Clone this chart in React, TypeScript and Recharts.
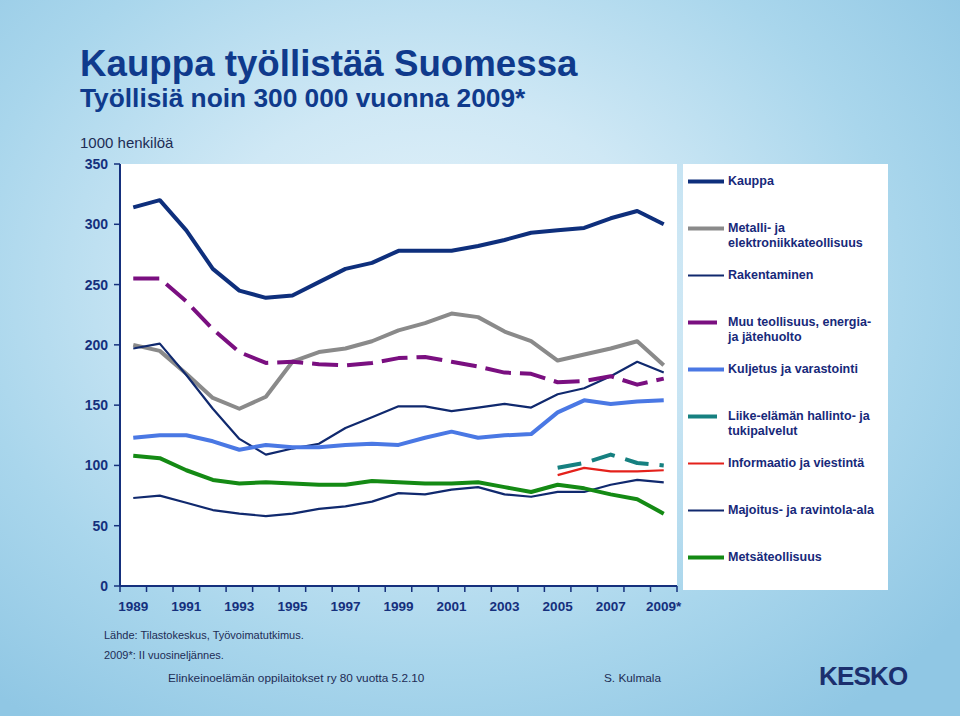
import React from "react";
import { LineChart, Line, XAxis, YAxis, CartesianGrid } from "recharts";

// 1000 henkilöä, 1989 – 2009* (II vuosineljännes)
const years = [1989, 1990, 1991, 1992, 1993, 1994, 1995, 1996, 1997, 1998, 1999, 2000, 2001, 2002, 2003, 2004, 2005, 2006, 2007, 2008, 2009];
const kauppa = [314, 320, 295, 263, 245, 239, 241, 252, 263, 268, 278, 278, 278, 282, 287, 293, 295, 297, 305, 311, 300];
const metalli = [200, 195, 176, 156, 147, 157, 186, 194, 197, 203, 212, 218, 226, 223, 211, 203, 187, 192, 197, 203, 183];
const rakentaminen = [197, 201, 175, 147, 122, 109, 114, 118, 131, 140, 149, 149, 145, 148, 151, 148, 159, 164, 174, 186, 177];
const muuTeollisuus = [255, 255, 236, 213, 194, 185, 186, 184, 183, 185, 189, 190, 186, 182, 177, 176, 169, 170, 174, 167, 172];
const kuljetus = [123, 125, 125, 120, 113, 117, 115, 115, 117, 118, 117, 123, 128, 123, 125, 126, 144, 154, 151, 153, 154];
const liikeElama = [null, null, null, null, null, null, null, null, null, null, null, null, null, null, null, null, 98, 102, 109, 102, 100];
const informaatio = [null, null, null, null, null, null, null, null, null, null, null, null, null, null, null, null, 92, 98, 95, 95, 96];
const majoitus = [73, 75, 69, 63, 60, 58, 60, 64, 66, 70, 77, 76, 80, 82, 76, 74, 78, 78, 84, 88, 86];
const metsa = [108, 106, 96, 88, 85, 86, 85, 84, 84, 87, 86, 85, 85, 86, 82, 78, 84, 81, 76, 72, 60];

const yTicks = [0, 50, 100, 150, 200, 250, 300, 350];

const NAVY = "#15307d";
const FONT = "'Liberation Sans', Arial, Helvetica, sans-serif";

const series = [
  { key: "kauppa", label: ["Kauppa"], color: "#0e2f7c", width: 4, dash: undefined, values: kauppa },
  { key: "metalli", label: ["Metalli- ja", "elektroniikkateollisuus"], color: "#8a8a8a", width: 4, dash: undefined, values: metalli },
  { key: "rakentaminen", label: ["Rakentaminen"], color: "#10296e", width: 2.2, dash: undefined, values: rakentaminen },
  { key: "muu", label: ["Muu teollisuus, energia-", "ja jätehuolto"], color: "#7a0f80", width: 4, dash: "26 9", values: muuTeollisuus },
  { key: "kuljetus", label: ["Kuljetus ja varastointi"], color: "#4a78e4", width: 4, dash: undefined, values: kuljetus },
  { key: "liike", label: ["Liike-elämän hallinto- ja", "tukipalvelut"], color: "#168080", width: 4, dash: "24 11", values: liikeElama },
  { key: "informaatio", label: ["Informaatio ja viestintä"], color: "#e4211b", width: 2.2, dash: undefined, values: informaatio },
  { key: "majoitus", label: ["Majoitus- ja ravintola-ala"], color: "#10296e", width: 2.2, dash: undefined, values: majoitus },
  { key: "metsa", label: ["Metsäteollisuus"], color: "#148a14", width: 4, dash: undefined, values: metsa },
];

const data = years.map((year, i) => {
  const row: Record<string, number | null> = { year };
  series.forEach((s) => {
    row[s.key] = s.values[i];
  });
  return row;
});

// tick marks sit between the years, labels every second year
const xTicks: number[] = [years[0] - 0.5];
years.forEach((y) => {
  xTicks.push(y, y + 0.5);
});

function YearTick(props: any) {
  const { x, y, payload } = props;
  const v = payload.value as number;
  if (v % 1 !== 0) {
    return <line x1={x} x2={x} y1={y} y2={y + 6} stroke={NAVY} strokeWidth={1.5} />;
  }
  if ((v - years[0]) % 2 !== 0) return <g />;
  return (
    <text x={x} y={y + 25} textAnchor="middle" fill={NAVY} fontSize={13.5} fontWeight="bold" fontFamily={FONT}>
      {v === 2009 ? "2009*" : String(v)}
    </text>
  );
}

function LegendBox() {
  return (
    <div
      style={{
        position: "absolute",
        left: 683,
        top: 164,
        width: 205,
        height: 426,
        background: "#fff",
      }}
    >
      <div style={{ position: "absolute", left: 0, top: 9.5 }}>
        {series.map((s) => (
          <div key={s.key} style={{ height: 47.1, display: "flex", alignItems: "flex-start" }}>
            <svg width={45} height={15} style={{ flex: "none" }}>
              <line
                x1={5}
                x2={s.dash ? 34 : 41}
                y1={7.5}
                y2={7.5}
                stroke={s.color}
                strokeWidth={s.width}
              />
            </svg>
            <div style={{ fontFamily: FONT, fontWeight: "bold", fontSize: 12.5, lineHeight: "15px", color: "#17297a" }}>
              {s.label.map((l) => (
                <div key={l}>{l}</div>
              ))}
            </div>
          </div>
        ))}
      </div>
    </div>
  );
}

export default function App() {
  return (
    <div
      style={{
        position: "absolute",
        left: 0,
        top: 0,
        width: 960,
        height: 716,
        overflow: "hidden",
        fontFamily: FONT,
        background:
          "radial-gradient(ellipse 70% 75% at 45% 40%, #e6f3fa 0%, #cfe8f5 35%, #a9d6ec 70%, #90c7e4 100%)",
      }}
    >
      <div style={{ position: "absolute", left: 80, top: 46, fontSize: 36.7, fontWeight: "bold", color: "#0f3a8c", lineHeight: 1, whiteSpace: "nowrap" }}>
        Kauppa työllistää Suomessa
      </div>
      <div style={{ position: "absolute", left: 80, top: 85, fontSize: 26.3, fontWeight: "bold", color: "#0f3a8c", lineHeight: 1, whiteSpace: "nowrap" }}>
        Työllisiä noin 300 000 vuonna 2009*
      </div>
      <div style={{ position: "absolute", left: 80, top: 135, fontSize: 15, color: "#1d2c55", lineHeight: 1 }}>
        1000 henkilöä
      </div>

      <div style={{ position: "absolute", left: 0, top: 0 }}>
        <LineChart width={960} height={716} data={data} margin={{ top: 164, right: 283, bottom: 100, left: 80 }}>
          <CartesianGrid fill="#ffffff" horizontal={false} vertical={false} />
          <XAxis
            dataKey="year"
            type="number"
            domain={[years[0] - 0.5, years[years.length - 1] + 0.5]}
            ticks={xTicks}
            interval={0}
            tick={<YearTick />}
            tickLine={false}
            tickSize={0}
            tickMargin={0}
            height={30}
            axisLine={{ stroke: NAVY, strokeWidth: 2 }}
          />
          <YAxis
            domain={[0, 350]}
            ticks={yTicks}
            width={40}
            tickSize={6}
            tickMargin={6}
            axisLine={{ stroke: NAVY, strokeWidth: 2 }}
            tickLine={{ stroke: NAVY, strokeWidth: 1.5 }}
            tick={{ fill: NAVY, fontSize: 14, fontWeight: "bold", fontFamily: FONT }}
          />
          {series.map((s) => (
            <Line
              key={s.key}
              dataKey={s.key}
              stroke={s.color}
              strokeWidth={s.width}
              strokeDasharray={s.dash}
              strokeLinejoin="round"
              dot={false}
              activeDot={false}
              connectNulls={false}
              isAnimationActive={false}
            />
          ))}
        </LineChart>
      </div>

      <LegendBox />

      <div style={{ position: "absolute", left: 104, top: 630, fontSize: 11, color: "#1d2c55", lineHeight: 1 }}>
        Lähde: Tilastokeskus, Työvoimatutkimus.
      </div>
      <div style={{ position: "absolute", left: 104, top: 650, fontSize: 11, color: "#1d2c55", lineHeight: 1 }}>
        2009*: II vuosineljännes.
      </div>
      <div style={{ position: "absolute", left: 168, top: 673, fontSize: 11.8, color: "#1d2c55", lineHeight: 1 }}>
        Elinkeinoelämän oppilaitokset ry 80 vuotta 5.2.10
      </div>
      <div style={{ position: "absolute", left: 604, top: 673, fontSize: 11.8, color: "#1d2c55", lineHeight: 1 }}>
        S. Kulmala
      </div>
      <div style={{ position: "absolute", left: 819, top: 663, fontSize: 26, fontWeight: "bold", color: "#1b2f6e", lineHeight: 1, letterSpacing: -0.8 }}>
        KESKO
      </div>
    </div>
  );
}
